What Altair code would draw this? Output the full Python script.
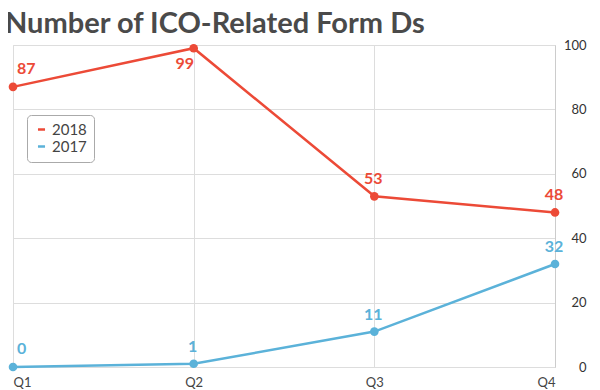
import altair as alt
import pandas as pd

quarters = ["Q1", "Q2", "Q3", "Q4"]
series_names = ["2018", "2017"]
values_2018 = [87, 99, 53, 48]
values_2017 = [0, 1, 11, 32]
y_ticks = [0, 20, 40, 60, 80, 100]

RED = "#ec4a37"
BLUE = "#5bb2d9"

rows = []
for q, v in zip(quarters, values_2018):
    rows.append({"quarter": q, "value": v, "series": "2018"})
for q, v in zip(quarters, values_2017):
    rows.append({"quarter": q, "value": v, "series": "2017"})
df = pd.DataFrame(rows)

x = alt.X(
    "quarter:O",
    sort=quarters,
    scale=alt.Scale(type="point", padding=0),
    axis=alt.Axis(
        title=None, labelAngle=0, labelFontSize=13, labelColor="#444",
        labelPadding=9, ticks=False, domain=False, grid=True,
        gridColor="#dddddd", labelFlush=True, labelFont="Lato",
    ),
)
y = alt.Y(
    "value:Q",
    scale=alt.Scale(domain=[0, 100], nice=False),
    axis=alt.Axis(
        orient="right", values=y_ticks, title=None, ticks=False,
        labelAlign="right", labelPadding=31, labelFontSize=13,
        labelColor="#333", gridColor="#dddddd", domainColor="#cccccc",
        labelFont="Lato",
    ),
)
color_scale = alt.Scale(domain=series_names, range=[RED, BLUE])

base = alt.Chart(df)

lines = base.mark_line(strokeWidth=2.5).encode(
    x=x, y=y,
    color=alt.Color(
        "series:N", scale=color_scale, sort=series_names,
        legend=alt.Legend(
            title=None, orient="none", legendX=14, legendY=70,
            symbolType="stroke", symbolStrokeWidth=2.5, symbolSize=50,
            labelFontSize=15, labelColor="#444", labelFont="Lato",
            fillColor="white", strokeColor="#aaaaaa", cornerRadius=4,
            padding=7, rowPadding=1, labelOffset=3,
        ),
    ),
)
points = base.mark_circle(size=75, opacity=1).encode(
    x=x, y=y, color=alt.Color("series:N", scale=color_scale, legend=None)
)

text_style = dict(fontSize=16, fontWeight="bold", font="Lato", baseline="middle")
lab_color = alt.Color("series:N", scale=color_scale, legend=None)

labels_first = base.transform_filter("datum.quarter == 'Q1'").mark_text(
    align="left", dx=4, dy=-18, **text_style
).encode(x=x, y=y, text="value:Q", color=lab_color)

labels_below = base.transform_filter(
    "datum.quarter == 'Q2' && datum.series == '2018'"
).mark_text(align="center", dx=-9, dy=16, **text_style).encode(
    x=x, y=y, text="value:Q", color=lab_color
)

labels_above = base.transform_filter(
    "datum.quarter != 'Q1' && !(datum.quarter == 'Q2' && datum.series == '2018')"
).mark_text(align="center", dx=-1, dy=-17, **text_style).encode(
    x=x, y=y, text="value:Q", color=lab_color
)

chart = (
    alt.layer(lines, points, labels_first, labels_below, labels_above)
    .properties(
        width=542,
        height=322,
        title=alt.TitleParams(
            "Number of ICO-Related Form Ds", anchor="start", fontSize=29,
            font="Lato", fontWeight="bold", color="#4a4a4a", offset=0, dx=-3,
        ),
        autosize=alt.AutoSizeParams(type="none"),
        padding={"left": 5, "top": 37, "right": 37, "bottom": 30},
    )
    .configure_view(stroke=None)
    .configure(background="white")
)

chart.save("out.html", embed_options={"renderer": "svg", "actions": False})
